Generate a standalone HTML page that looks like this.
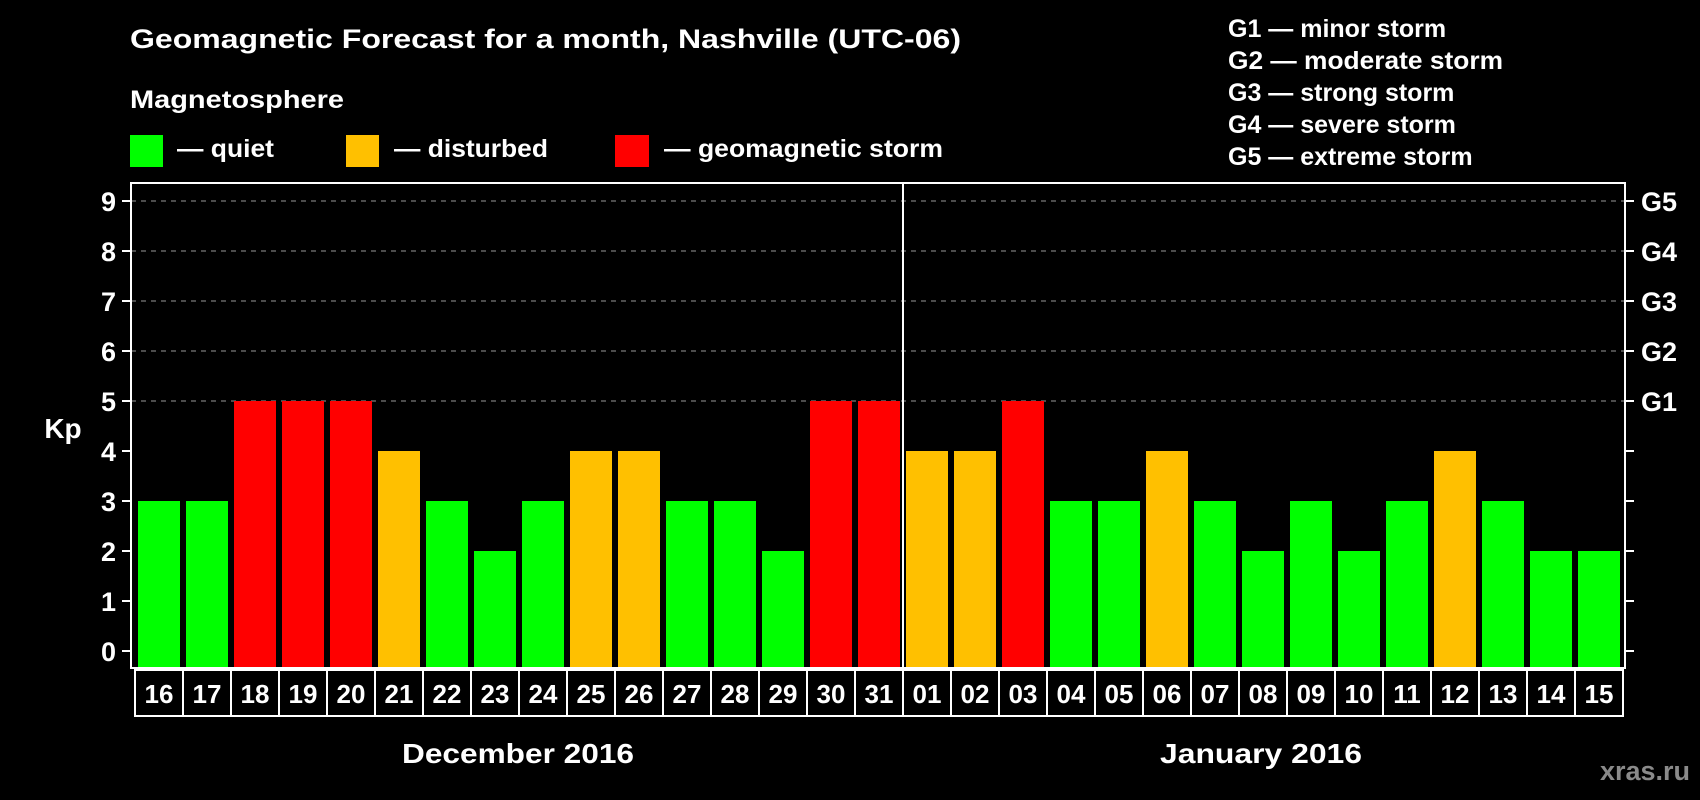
<!DOCTYPE html>
<html><head><meta charset="utf-8"><style>
html,body{margin:0;padding:0;background:#000;}
svg{display:block;font-family:"Liberation Sans",sans-serif;font-weight:bold;}
</style></head><body>
<svg id="chart" width="1700" height="800" viewBox="0 0 1700 800">
<text x="130" y="48" font-size="27" fill="#fff" textLength="831" lengthAdjust="spacingAndGlyphs">Geomagnetic Forecast for a month, Nashville (UTC-06)</text>
<text x="130" y="108" font-size="25" fill="#fff" textLength="214" lengthAdjust="spacingAndGlyphs">Magnetosphere</text>
<g>
<rect x="130" y="135" width="33" height="32" fill="#00ff00"/>
<text x="177" y="157" font-size="25" fill="#fff" textLength="97" lengthAdjust="spacingAndGlyphs">— quiet</text>
</g>
<g>
<rect x="346" y="135" width="33" height="32" fill="#ffc000"/>
<text x="394" y="157" font-size="25" fill="#fff" textLength="154" lengthAdjust="spacingAndGlyphs">— disturbed</text>
</g>
<g>
<rect x="615" y="135" width="34" height="32" fill="#ff0000"/>
<text x="664" y="157" font-size="25" fill="#fff" textLength="279" lengthAdjust="spacingAndGlyphs">— geomagnetic storm</text>
</g>
<g>
<text x="1228" y="37" font-size="25" fill="#fff">G1 — minor storm</text>
<text x="1228" y="69" font-size="25" fill="#fff" textLength="275" lengthAdjust="spacingAndGlyphs">G2 — moderate storm</text>
<text x="1228" y="101" font-size="25" fill="#fff">G3 — strong storm</text>
<text x="1228" y="133" font-size="25" fill="#fff">G4 — severe storm</text>
<text x="1228" y="165" font-size="25" fill="#fff">G5 — extreme storm</text>
</g>
<text x="63" y="438" font-size="28" fill="#fff" text-anchor="middle">Kp</text>
<text x="518" y="763" font-size="28" fill="#fff" text-anchor="middle" textLength="232" lengthAdjust="spacingAndGlyphs">December 2016</text>
<text x="1261" y="763" font-size="28" fill="#fff" text-anchor="middle" textLength="202" lengthAdjust="spacingAndGlyphs">January 2016</text>
<text x="1690" y="780" font-size="27" fill="#8a8a8a" text-anchor="end">xras.ru</text>
<g id="plot"></g>
</svg>
<script>
const days = ["16","17","18","19","20","21","22","23","24","25","26","27","28","29","30","31","01","02","03","04","05","06","07","08","09","10","11","12","13","14","15"];
const kp = [3,3,5,5,5,4,3,2,3,4,4,3,3,2,5,5,4,4,5,3,3,4,3,2,3,2,3,4,3,2,2];
const yTicks = ["0","1","2","3","4","5","6","7","8","9"];
const gLabels = ["G1","G2","G3","G4","G5"];
const gLevels = [5,6,7,8,9];

const NS = "http://www.w3.org/2000/svg";
const plot = document.getElementById("plot");
const L = 131, R = 1625, T = 183, B = 668;
const x0 = 138, pitch = 48, bw = 42;
const y = v => 651 - v * 50;
const xBar = i => x0 + i * pitch;
const color = v => v >= 5 ? "#ff0000" : (v >= 4 ? "#ffc000" : "#00ff00");
function mk(tag, attrs) { const e = document.createElementNS(NS, tag); for (const k in attrs) e.setAttribute(k, attrs[k]); plot.appendChild(e); return e; }

yTicks.forEach((t, i) => {
  const v = +t;
  if (v >= 5) {
    const g = mk("line", {x1: L, x2: R, y1: y(v), y2: y(v), stroke: "#999", "stroke-width": 1, "stroke-dasharray": "5,5"});
    
    
  }
  const tk = mk("line", {x1: 122, x2: L, y1: y(v), y2: y(v), stroke: "#fff", "stroke-width": 2});
  
  
  const tk2 = mk("line", {x1: R, x2: 1634, y1: y(v), y2: y(v), stroke: "#fff", "stroke-width": 2});
  
  
  const lb = mk("text", {x: 116, y: y(v) + 10, "font-size": 27, fill: "#fff", "text-anchor": "end"});
  lb.textContent = t;
  
  
});
gLabels.forEach((g, i) => {
  const lb = mk("text", {x: 1641, y: y(gLevels[i]) + 10, "font-size": 27, fill: "#fff"});
  lb.textContent = g;
  
  
});
kp.forEach((v, i) => {
  const r = mk("rect", {x: xBar(i), y: y(v), width: bw, height: B - y(v), fill: color(v)});
  
  
});
const frame = mk("rect", {x: L, y: T, width: R - L, height: B - T, fill: "none", stroke: "#fff", "stroke-width": 2});


const div = mk("line", {x1: 903, x2: 903, y1: T, y2: B, stroke: "#fff", "stroke-width": 2});


days.forEach((d, i) => {
  const bx = 135 + i * pitch;
  const box = mk("rect", {x: bx, y: 670, width: pitch, height: 46, fill: "#000", stroke: "#fff", "stroke-width": 2});
  
  
  const t = mk("text", {x: bx + pitch / 2, y: 703, "font-size": 26, fill: "#fff", "text-anchor": "middle"});
  t.textContent = d;
  
  
});
</script>
</body></html>
